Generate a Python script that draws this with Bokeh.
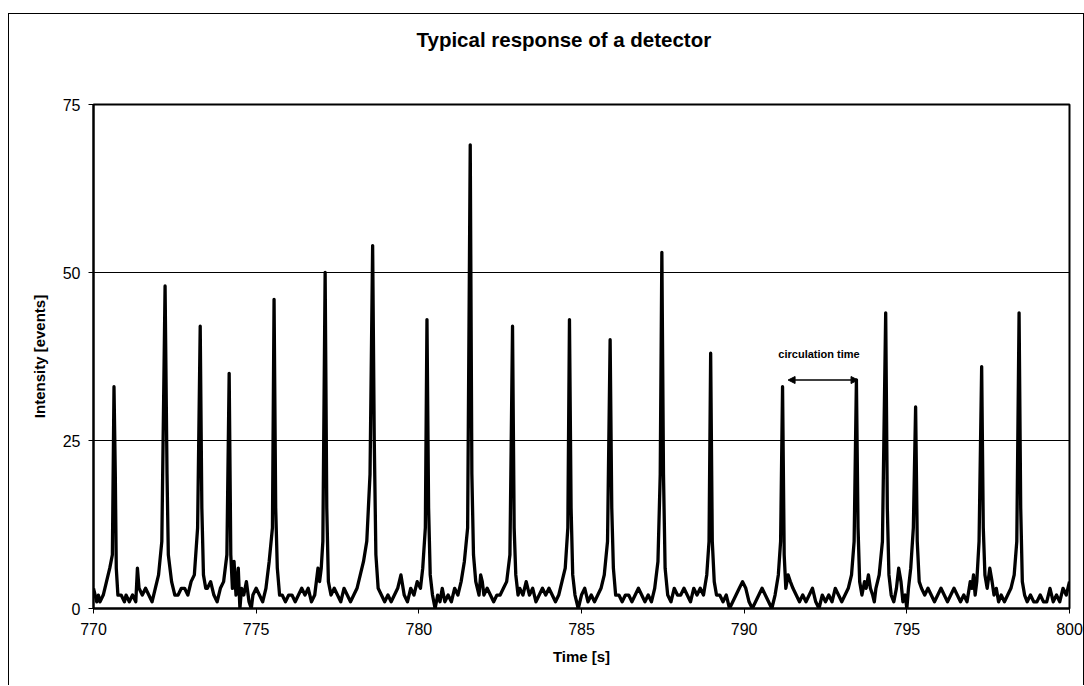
from bokeh.plotting import figure
from bokeh.models import Range1d, FixedTicker, Arrow, NormalHead, Label, ColumnDataSource, Title
from bokeh.embed import file_html
from bokeh.resources import INLINE

title_text = "Typical response of a detector"
x_label = "Time [s]"
y_label = "Intensity [events]"
x_ticks = [770, 775, 780, 785, 790, 795, 800]
y_ticks = [0, 25, 50, 75]
grid_levels = [25, 50]

time_s = [
    770.0, 770.05, 770.1, 770.15, 770.2, 770.3, 770.4, 770.5, 770.58, 770.63, 770.67, 770.7, 770.75, 770.85, 770.95,
    771.0, 771.1, 771.2, 771.3, 771.35, 771.4, 771.5, 771.6, 771.7, 771.8, 771.9,
    772.0, 772.1, 772.2, 772.26, 772.3, 772.4, 772.5, 772.6, 772.7, 772.8, 772.9,
    773.0, 773.1, 773.2, 773.28, 773.33, 773.38, 773.45, 773.5, 773.6, 773.7, 773.8, 773.9,
    774.0, 774.1, 774.17, 774.22, 774.27, 774.32, 774.38, 774.45, 774.5, 774.55, 774.62, 774.7, 774.78, 774.85, 774.9,
    775.0, 775.1, 775.2, 775.3, 775.4, 775.5, 775.55, 775.6, 775.65, 775.72, 775.8, 775.9,
    776.0, 776.1, 776.2, 776.3, 776.4, 776.5, 776.6, 776.7, 776.8, 776.9, 776.95,
    777.0, 777.05, 777.12, 777.17, 777.22, 777.3, 777.4, 777.5, 777.6, 777.7, 777.8, 777.9,
    778.0, 778.1, 778.2, 778.3, 778.4, 778.5, 778.58, 778.63, 778.68, 778.75, 778.85, 778.95,
    779.05, 779.15, 779.25, 779.35, 779.45, 779.55, 779.65, 779.75, 779.85, 779.95,
    780.05, 780.12, 780.2, 780.25, 780.3, 780.35, 780.42, 780.5, 780.58, 780.65, 780.72, 780.8, 780.9,
    781.0, 781.1, 781.2, 781.3, 781.4, 781.5, 781.58, 781.63, 781.68, 781.75, 781.8, 781.85, 781.9, 781.95,
    782.0, 782.1, 782.2, 782.3, 782.4, 782.5, 782.6, 782.7, 782.8, 782.88, 782.93, 782.98,
    783.05, 783.1, 783.2, 783.3, 783.4, 783.5, 783.6, 783.7, 783.8, 783.9,
    784.0, 784.1, 784.2, 784.3, 784.4, 784.5, 784.58, 784.63, 784.68, 784.73, 784.8, 784.9,
    785.0, 785.1, 785.2, 785.3, 785.4, 785.5, 785.6, 785.7, 785.8, 785.88, 785.93, 785.98,
    786.05, 786.15, 786.25, 786.35, 786.45, 786.55, 786.65, 786.75, 786.85, 786.95,
    787.05, 787.15, 787.25, 787.35, 787.42, 787.47, 787.52, 787.57, 787.65, 787.75, 787.85, 787.95,
    788.05, 788.15, 788.25, 788.35, 788.45, 788.55, 788.65, 788.75, 788.85, 788.92, 788.97,
    789.02, 789.08, 789.15, 789.25, 789.35, 789.45, 789.55, 789.65, 789.75, 789.85, 789.95,
    790.05, 790.15, 790.25, 790.35, 790.45, 790.55, 790.65, 790.75, 790.85, 790.95,
    791.05, 791.12, 791.18, 791.23, 791.28, 791.35, 791.42, 791.5, 791.6, 791.7, 791.8, 791.9,
    792.0, 792.1, 792.2, 792.3, 792.4, 792.5, 792.6, 792.7, 792.8, 792.9,
    793.0, 793.1, 793.2, 793.3, 793.38, 793.45, 793.5, 793.55, 793.62, 793.7, 793.75, 793.82, 793.88, 793.95,
    794.0, 794.05, 794.15, 794.25, 794.35, 794.4, 794.45, 794.52, 794.6, 794.68, 794.75, 794.82, 794.88, 794.95,
    795.0, 795.05, 795.12, 795.2, 795.27, 795.32, 795.38, 795.45, 795.55, 795.65, 795.75, 795.85, 795.95,
    796.05, 796.15, 796.25, 796.35, 796.45, 796.55, 796.65, 796.75, 796.85, 796.95,
    797.0, 797.05, 797.1, 797.15, 797.22, 797.3, 797.35, 797.4, 797.47, 797.55, 797.62, 797.68, 797.75, 797.82, 797.9,
    798.0, 798.1, 798.2, 798.3, 798.38, 798.45, 798.5, 798.55, 798.62, 798.7, 798.8, 798.9,
    799.0, 799.1, 799.2, 799.3, 799.4, 799.5, 799.6, 799.7, 799.8, 799.9, 800.0,
]

intensity = [
    3, 2, 1, 2, 1, 2, 4, 6, 8, 33, 20, 6, 2, 2, 1,
    2, 1, 2, 1, 6, 3, 2, 3, 2, 1, 3,
    5, 10, 48, 20, 8, 4, 2, 2, 3, 3, 2,
    4, 5, 12, 42, 15, 5, 3, 3, 4, 2, 1, 3,
    4, 8, 35, 8, 3, 7, 2, 6, 0, 3, 2, 4, 1, 0, 2,
    3, 2, 1, 3, 7, 12, 46, 15, 6, 2, 2, 1,
    2, 2, 1, 2, 3, 2, 3, 1, 2, 6, 4,
    6, 10, 50, 15, 4, 2, 3, 2, 1, 3, 2, 1,
    2, 3, 5, 7, 10, 20, 54, 25, 8, 3, 2, 1,
    2, 1, 2, 3, 5, 2, 1, 3, 2, 4,
    3, 6, 12, 43, 15, 5, 2, 0, 2, 1, 3, 1, 2,
    1, 3, 2, 4, 7, 12, 69, 20, 8, 4, 3, 2, 5, 4,
    2, 3, 2, 1, 2, 2, 3, 4, 8, 42, 12, 5,
    2, 3, 2, 4, 2, 3, 1, 2, 3, 2,
    3, 2, 1, 2, 4, 6, 12, 43, 15, 5, 2, 0,
    2, 3, 1, 2, 1, 2, 3, 5, 10, 40, 15, 6,
    2, 2, 1, 2, 2, 1, 2, 3, 2, 1,
    2, 1, 3, 7, 20, 53, 20, 6, 2, 1, 3, 2,
    2, 3, 2, 1, 3, 2, 3, 2, 5, 10, 38,
    10, 4, 2, 2, 1, 2, 0, 1, 2, 3, 4,
    3, 1, 0, 1, 2, 3, 2, 1, 0, 2,
    5, 10, 33, 8, 3, 5, 4, 3, 2, 1, 2, 1,
    2, 3, 1, 0, 2, 1, 2, 1, 3, 2,
    1, 2, 3, 5, 10, 34, 12, 4, 2, 4, 3, 5, 3, 2,
    1, 3, 5, 10, 44, 15, 5, 2, 1, 3, 6, 4, 1, 2,
    0, 3, 6, 12, 30, 10, 4, 3, 2, 3, 2, 1, 2,
    3, 2, 1, 2, 3, 2, 1, 2, 1, 4,
    3, 5, 2, 4, 10, 36, 12, 5, 3, 6, 4, 2, 3, 1, 2,
    1, 2, 3, 5, 10, 44, 15, 4, 2, 1, 2, 1,
    1, 2, 1, 1, 3, 1, 2, 1, 3, 2, 4,
]

note_text = "circulation time"
note_x = 792.3
note_y = 37.8
arrow_start = 791.35
arrow_end = 793.5
arrow_y = 34.0

FONT = "Liberation Sans"

p = figure(width=1076, height=672, output_backend="svg", toolbar_location=None,
           x_range=Range1d(770, 800), y_range=Range1d(0, 75),
           min_border_left=84, min_border_right=16, min_border_top=90, min_border_bottom=78,
           title=title_text)
p.margin = (13, 0, 0, 8)
p.styles = {"border-top": "1px solid black", "border-left": "1px solid black",
            "border-right": "1px solid black"}

p.title.align = "left"
p.title.offset = 323
p.title.text_font = FONT
p.title.text_font_size = "20.5px"
p.title.text_font_style = "bold"
p.title.text_color = "black"
p.title.standoff = 0

# empty spacer between the title and the plot frame
p.add_layout(Title(text=" ", text_font_size="20px", standoff=30), "above")

p.outline_line_color = "black"
p.outline_line_width = 2
p.background_fill_color = "white"
p.border_fill_color = "white"

p.xgrid.visible = False
p.ygrid.ticker = FixedTicker(ticks=grid_levels)
p.ygrid.grid_line_color = "black"
p.ygrid.grid_line_width = 1
p.ygrid.grid_line_alpha = 1.0

for ax, ticks in ((p.xaxis, x_ticks), (p.yaxis, y_ticks)):
    ax.ticker = FixedTicker(ticks=ticks)
    ax.axis_line_color = "black"
    ax.axis_line_width = 2
    ax.major_tick_line_color = "black"
    ax.major_tick_line_width = 1
    ax.major_tick_out = 5
    ax.major_tick_in = 0
    ax.minor_tick_line_color = None
    ax.major_label_text_font = FONT
    ax.major_label_text_font_size = "16px"
    ax.major_label_text_color = "black"
    ax.axis_label_text_font = FONT
    ax.axis_label_text_font_size = "15px"
    ax.axis_label_text_font_style = "bold"
    ax.axis_label_text_color = "black"

p.xaxis.axis_label = x_label
p.yaxis.axis_label = y_label
p.xaxis.major_label_standoff = 9
p.yaxis.major_label_standoff = 8
p.xaxis.axis_label_standoff = 10
p.yaxis.axis_label_standoff = 12

src = ColumnDataSource(dict(t=time_s, v=intensity))
p.line("t", "v", source=src, line_color="black", line_width=3.3, line_join="round")

p.add_layout(Label(x=note_x, y=note_y, text=note_text, text_align="center",
                   text_baseline="middle", text_font=FONT, text_font_size="11px",
                   text_font_style="bold", text_color="black"))
p.add_layout(Arrow(x_start=arrow_start, y_start=arrow_y, x_end=arrow_end, y_end=arrow_y,
                   line_color="black", line_width=1.5,
                   start=NormalHead(size=7, fill_color="black", line_color="black"),
                   end=NormalHead(size=7, fill_color="black", line_color="black")))

open("out.html", "w").write(file_html(p, INLINE))
